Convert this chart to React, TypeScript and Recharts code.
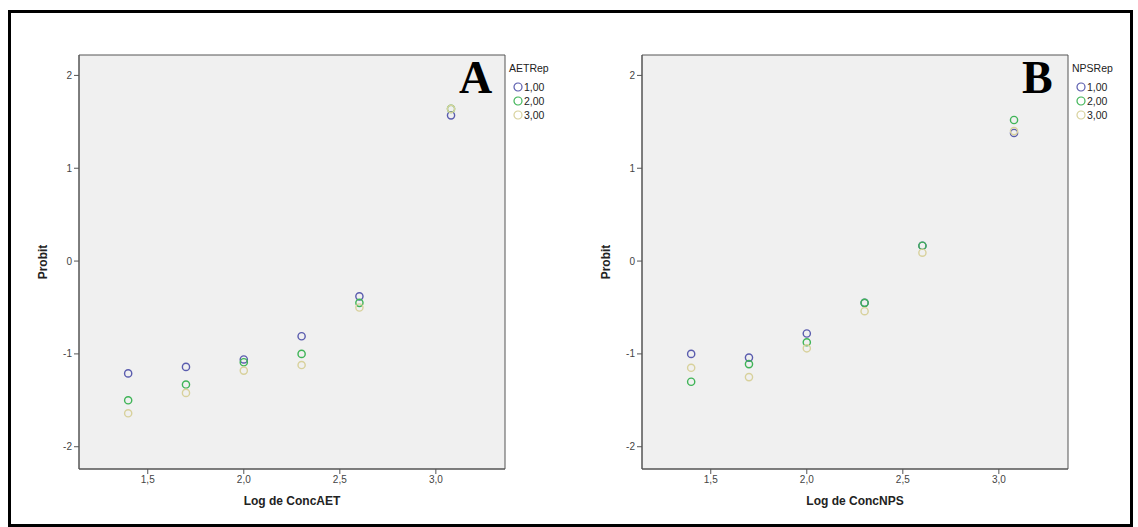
import React from "react";
import { ScatterChart, Scatter, XAxis, YAxis, ReferenceArea } from "recharts";

// log10 of the tested concentrations
const logConc = [1.398, 1.699, 2.0, 2.301, 2.602, 3.079];

// panel A — probit per replicate
const aetRep1 = [-1.21, -1.14, -1.06, -0.81, -0.38, 1.57];
const aetRep2 = [-1.5, -1.33, -1.09, -1.0, -0.45, 1.64];
const aetRep3 = [-1.64, -1.42, -1.18, -1.12, -0.5, 1.64];

// panel B — probit per replicate
const npsRep1 = [-1.0, -1.04, -0.78, -0.45, 0.165, 1.38];
const npsRep2 = [-1.3, -1.11, -0.875, -0.45, 0.165, 1.52];
const npsRep3 = [-1.15, -1.25, -0.94, -0.54, 0.09, 1.4];

const repLabels = ["1,00", "2,00", "3,00"];
const xTicks = [1.5, 2.0, 2.5, 3.0];
const yTicks = [-2, -1, 0, 1, 2];

const X_DOMAIN = [1.142, 3.36];
const Y_DOMAIN = [-2.24, 2.22];

const REP_COLORS = ["#5a5cae", "#3fb457", "#d8d19c"];
const FONT = "Liberation Sans, Arial";

const toPoints = (ys: number[]) => logConc.map((x, i) => ({ x, y: ys[i] }));

function ring(color: string) {
  return (p: any) => (
    <circle cx={p.cx} cy={p.cy} r={3.6} fill="none" stroke={color} strokeWidth={1.4} />
  );
}

function Panel({
  left,
  letter,
  xLabel,
  legendTitle,
  reps,
}: {
  left: number;
  letter: string;
  xLabel: string;
  legendTitle: string;
  reps: number[][];
}) {
  return (
    <div style={{ position: "absolute", left, top: 0, width: 570, height: 527 }}>
      <ScatterChart
        width={570}
        height={527}
        margin={{ top: 55, right: 65, bottom: 0, left: 39 }}
      >
        <XAxis
          type="number"
          dataKey="x"
          domain={X_DOMAIN}
          ticks={xTicks}
          allowDataOverflow
          height={58}
          tickSize={5}
          stroke="#555"
          tick={{ fill: "#444", fontSize: 10, fontFamily: FONT }}
          tickFormatter={(v) => Number(v).toFixed(1).replace(".", ",")}
          label={{
            value: xLabel,
            position: "insideBottom",
            offset: 22,
            style: { fontWeight: "bold", fontSize: 12, fill: "#222", fontFamily: FONT },
          }}
        />
        <YAxis
          type="number"
          dataKey="y"
          domain={Y_DOMAIN}
          ticks={yTicks}
          allowDataOverflow
          width={40}
          tickSize={5}
          stroke="#555"
          tick={{ fill: "#444", fontSize: 10, fontFamily: FONT }}
          label={{
            value: "Probit",
            angle: -90,
            position: "insideLeft",
            offset: 4,
            style: { textAnchor: "middle", fontWeight: "bold", fontSize: 12, fill: "#222", fontFamily: FONT },
          }}
        />
        <ReferenceArea
          x1={X_DOMAIN[0]}
          x2={X_DOMAIN[1]}
          y1={Y_DOMAIN[0]}
          y2={Y_DOMAIN[1]}
          fill="#f0f0f0"
          fillOpacity={1}
          stroke="#555"
          strokeWidth={1}
        />
        {reps.map((ys, i) => (
          <Scatter
            key={repLabels[i]}
            name={repLabels[i]}
            data={toPoints(ys)}
            shape={ring(REP_COLORS[i])}
            isAnimationActive={false}
          />
        ))}
      </ScatterChart>
      {/* legend */}
      <div
        style={{
          position: "absolute",
          left: 509,
          top: 61,
          fontFamily: FONT,
          fontSize: 10.5,
          color: "#222",
          lineHeight: "14px",
        }}
      >
        <div style={{ marginBottom: 5 }}>{legendTitle}</div>
        {repLabels.map((lbl, i) => (
          <div key={lbl} style={{ display: "flex", alignItems: "center", height: 14, paddingLeft: 4 }}>
            <svg width={10} height={10}>
              <circle cx={5} cy={5} r={4} fill="none" stroke={REP_COLORS[i]} strokeWidth={1.2} />
            </svg>
            <span style={{ marginLeft: 1 }}>{lbl}</span>
          </div>
        ))}
      </div>
      <div
        style={{
          position: "absolute",
          left: 459,
          top: 55,
          fontFamily: "Liberation Serif, Times New Roman",
          fontWeight: "bold",
          fontSize: 46,
          lineHeight: 1,
          color: "#000",
        }}
      >
        {letter}
      </div>
    </div>
  );
}

export default function App() {
  return (
    <div
      style={{
        position: "absolute",
        left: 0,
        top: 0,
        width: 1138,
        height: 527,
        background: "#fff",
        overflow: "hidden",
      }}
    >
      <div
        style={{
          position: "absolute",
          left: 8,
          top: 10,
          width: 1125,
          height: 517,
          border: "3px solid #000",
          boxSizing: "border-box",
        }}
      />
      <Panel
        left={0}
        letter="A"
        xLabel="Log de ConcAET"
        legendTitle="AETRep"
        reps={[aetRep1, aetRep2, aetRep3]}
      />
      <Panel
        left={563}
        letter="B"
        xLabel="Log de ConcNPS"
        legendTitle="NPSRep"
        reps={[npsRep1, npsRep2, npsRep3]}
      />
    </div>
  );
}
